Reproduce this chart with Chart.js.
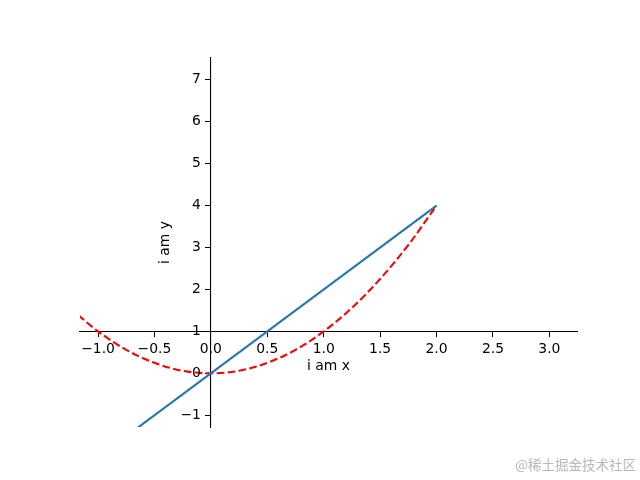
<!DOCTYPE html>
<html>
<head>
<meta charset="utf-8">
<script src="https://cdn.jsdelivr.net/npm/chart.js@4/dist/chart.umd.min.js"></script>
<style>
  html, body { margin: 0; padding: 0; background: #fff; }
  #wrap { position: relative; width: 640px; height: 480px; }
  #marca {
    position: absolute; right: 4px; bottom: 6px;
    font: 13.5px "Noto Sans CJK SC", sans-serif; color: #b8b8b8;
  }
</style>
</head>
<body>
<div id="wrap">
  <canvas id="grafica" width="640" height="480"></canvas>
  <div id="marca">@稀土掘金技术社区</div>
</div>
<script>
// Datos
const xRecta = [-1.0, 2.0];
const yRecta = [-2.0, 4.0];

const xCurva = [-1.25, -1.0, -0.75, -0.5, -0.25, 0.0, 0.25, 0.5, 0.75, 1.0, 1.25, 1.5, 1.75, 2.0];
const yCurva = [1.56, 1.0, 0.56, 0.25, 0.06, 0.0, 0.06, 0.25, 0.56, 1.0, 1.56, 2.25, 3.06, 4.0];

const ticksX = [-1.0, -0.5, 0.0, 0.5, 1.0, 1.5, 2.0, 2.5, 3.0];
const ticksY = [-1, 0, 1, 2, 3, 4, 5, 6, 7];

const tituloX = "i am x";
const tituloY = "i am y";

const fuente = { family: "DejaVu Sans", size: 13.9 };

function puntos(xs, ys) {
  return xs.map((x, i) => ({ x, y: ys[i] }));
}

// Etiquetas del eje y y títulos dibujados a mano (ejes centrados en x=0, y=1)
const textosEjes = {
  id: "textosEjes",
  afterDraw(chart) {
    const c = chart.ctx;
    const sx = chart.scales.x;
    const sy = chart.scales.y;
    const x0 = sx.getPixelForValue(0);
    const y1 = sy.getPixelForValue(1);
    c.save();
    c.font = `${fuente.size}px ${fuente.family}`;
    c.fillStyle = "#000";

    // etiquetas y
    c.textAlign = "right";
    c.textBaseline = "middle";
    ticksY.forEach(v => {
      c.fillText(String(v).replace("-", "\u2212"), x0 - 10, sy.getPixelForValue(v));
    });

    // título x
    c.textAlign = "center";
    c.fillText(tituloX, (sx.left + sx.right) / 2, y1 + 35);

    // título y
    c.translate(x0 - 45, (sy.top + sy.bottom) / 2);
    c.rotate(-Math.PI / 2);
    c.fillText(tituloY, 0, 0);
    c.restore();
  }
};

const ctx = document.getElementById("grafica").getContext("2d");
new Chart(ctx, {
  type: "scatter",
  data: {
    datasets: [
      {
        data: puntos(xRecta, yRecta),
        showLine: true,
        borderColor: "#1f77b4",
        borderWidth: 2.1,
        pointRadius: 0,
      },
      {
        data: puntos(xCurva, yCurva),
        showLine: true,
        borderColor: "#ff0000",
        borderWidth: 2.1,
        borderDash: [7.7, 3.3],
        cubicInterpolationMode: "monotone",
        pointRadius: 0,
      }
    ]
  },
  options: {
    responsive: false,
    animation: false,
    layout: { padding: { left: 80, right: 63, top: 58, bottom: 53 } },
    plugins: { legend: { display: false }, tooltip: { enabled: false } },
    scales: {
      x: {
        type: "linear",
        position: { y: 1 },
        min: -1.16,
        max: 3.245,
        afterBuildTicks: s => { s.ticks = ticksX.map(v => ({ value: v })); },
        ticks: {
          color: "#000",
          font: fuente,
          padding: 5,
          callback: v => v.toFixed(1).replace("-", "\u2212"),
        },
        grid: { drawOnChartArea: false, tickLength: 5, color: "#000", tickColor: "#000" },
        border: { color: "#000", width: 1.1 },
        title: { display: false },
      },
      y: {
        type: "linear",
        position: { x: 0 },
        min: -1.28,
        max: 7.52,
        afterBuildTicks: s => { s.ticks = ticksY.map(v => ({ value: v })); },
        ticks: { display: false },
        grid: { drawOnChartArea: false, drawTicks: true, tickLength: 5, color: "#000", tickColor: "#000" },
        border: { color: "#000", width: 1.1 },
        title: { display: false },
      }
    }
  },
  plugins: [textosEjes]
});
</script>
</body>
</html>
